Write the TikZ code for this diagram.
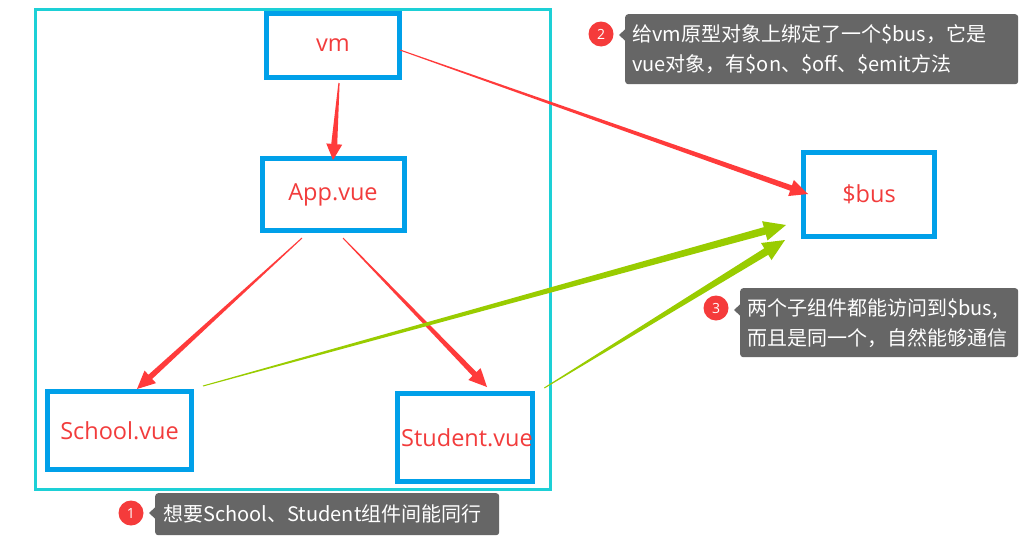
\documentclass[tikz,border=0pt]{standalone}
\usepackage{fontspec}
\newfontfamily\cjk{Noto Sans CJK SC}
\newfontfamily\lab{Open Sans}
\usetikzlibrary{calc}
\definecolor{boxblue}{HTML}{00A0E9}
\definecolor{framec}{HTML}{1DD0D6}
\definecolor{lbl}{HTML}{F23C3C}
\definecolor{arr}{HTML}{FF3B3B}
\definecolor{grn}{HTML}{99CC00}
\definecolor{tipc}{HTML}{666666}
\definecolor{badge}{HTML}{F53B3B}
% tapered arrow: #1 colour, #2 start, #3 tip, #4 start half width, #5 shaft half width, #6 head half width, #7 head length
\newcommand\taperarrow[7]{%
  \coordinate (tH) at ($(#3)!#7!(#2)$);
  \fill[#1] ($(#2)!#4!90:(#3)$) -- ($(tH)!#5!90:(#3)$) -- ($(tH)!#6!90:(#3)$) -- (#3)
     -- ($(tH)!#6!-90:(#3)$) -- ($(tH)!#5!-90:(#3)$) -- ($(#2)!#4!-90:(#3)$) -- cycle;}
\begin{document}
\begin{tikzpicture}[x=1pt,y=-1pt,
  vbox/.style={draw=boxblue, line width=5pt, rectangle, text=lbl, inner sep=0pt,
    font=\lab\fontsize{23.5}{28}\selectfont},
  tipbox/.style={fill=tipc, rounded corners=3pt, text=white, align=left, anchor=north west,
    inner xsep=7pt, inner ysep=0pt, font=\cjk\fontsize{20}{30}\selectfont},
  badgec/.style={circle, fill=badge, minimum size=25pt, inner sep=0pt, text=white,
    font=\lab\fontsize{14}{16}\selectfont}]
\useasboundingbox (0,0) rectangle (1019,554);
\fill[white] (0,0) rectangle (1019,554);

% outer frame
\node[draw=framec, line width=3pt, minimum width=515pt, minimum height=480pt, anchor=north west, inner sep=0pt] (frame) at (34,8) {};

% boxes
\node[vbox, minimum width=133pt, minimum height=64pt] (vm) at (333,45.5) {vm\hspace{22pt}};
\node[vbox, minimum width=142pt, minimum height=72pt] (app) at (333,194.5) {App.vue};
\node[vbox, minimum width=144pt, minimum height=78pt] (school) at (119.5,430.5) {School.vue};
\node[vbox, minimum width=129pt, minimum height=88pt] (student) at (465,437.5) {\hspace{4pt}Student.vue};
\node[vbox, minimum width=131pt, minimum height=84pt] (bus) at (869,194.5) {\$bus\hspace{12pt}};

% arrow end points
\coordinate (s1) at ($(vm.south)+(6,3)$);
\coordinate (e1) at ($(app.north)+(0,4)$);
\coordinate (s2) at ($(vm.east)+(-2,4.5)$);
\coordinate (e2) at ($(bus.west)+(7,-0.5)$);
\coordinate (s3) at ($(app.south)+(-31,5)$);
\coordinate (e3) at ($(school.north)+(17.5,0)$);
\coordinate (s4) at ($(app.south)+(10,5)$);
\coordinate (e4) at ($(student.north)+(22,-4)$);
\coordinate (s5) at ($(school.north east)+(9,-3)$);
\coordinate (e5) at ($(bus.west)+(-15,30.5)$);
\coordinate (s6) at ($(student.north east)+(9,-3)$);
\coordinate (e6) at ($(bus.west)+(-16,45.5)$);

\taperarrow{arr}{s1}{e1}{0.6pt}{3pt}{8pt}{16pt}
\taperarrow{arr}{s2}{e2}{0.5pt}{2.8pt}{8.5pt}{18pt}
\taperarrow{arr}{s3}{e3}{0.5pt}{2.8pt}{8.5pt}{18pt}
\taperarrow{arr}{s4}{e4}{0.5pt}{2.8pt}{8.5pt}{18pt}
\taperarrow{grn}{s5}{e5}{0.5pt}{3.8pt}{10pt}{22pt}
\taperarrow{grn}{s6}{e6}{0.5pt}{3.8pt}{10pt}{22pt}

% callouts
\node[tipbox, minimum width=393pt, minimum height=70pt, text width=379pt] (c2) at (625,14)
  {给vm原型对象上绑定了一个\$bus，它是\\vue对象，有\$on、\$off、\$emit方法};
\fill[tipc] ($(c2.north west)+(0.5,15)$) -- ($(c2.north west)+(-6,21)$) -- ($(c2.north west)+(0.5,27)$) -- cycle;
\node[badgec] (n2) at (601,34) {2};

\node[tipbox, minimum width=278pt, minimum height=69pt, text width=264pt] (c3) at (740,288)
  {两个子组件都能访问到\$bus,\\而且是同一个，自然能够通信};
\fill[tipc] ($(c3.north west)+(0.5,16)$) -- ($(c3.north west)+(-6,22)$) -- ($(c3.north west)+(0.5,28)$) -- cycle;
\node[badgec] (n3) at (716,308) {3};

\node[tipbox, minimum width=344pt, minimum height=42pt, text width=328pt, inner xsep=8pt] (c1) at (155,493)
  {想要School、Student组件间能同行};
\fill[tipc] ($(c1.north west)+(0.5,14)$) -- ($(c1.north west)+(-6,20)$) -- ($(c1.north west)+(0.5,26)$) -- cycle;
\node[badgec] (n1) at (131,513) {1};
\end{tikzpicture}
\end{document}
